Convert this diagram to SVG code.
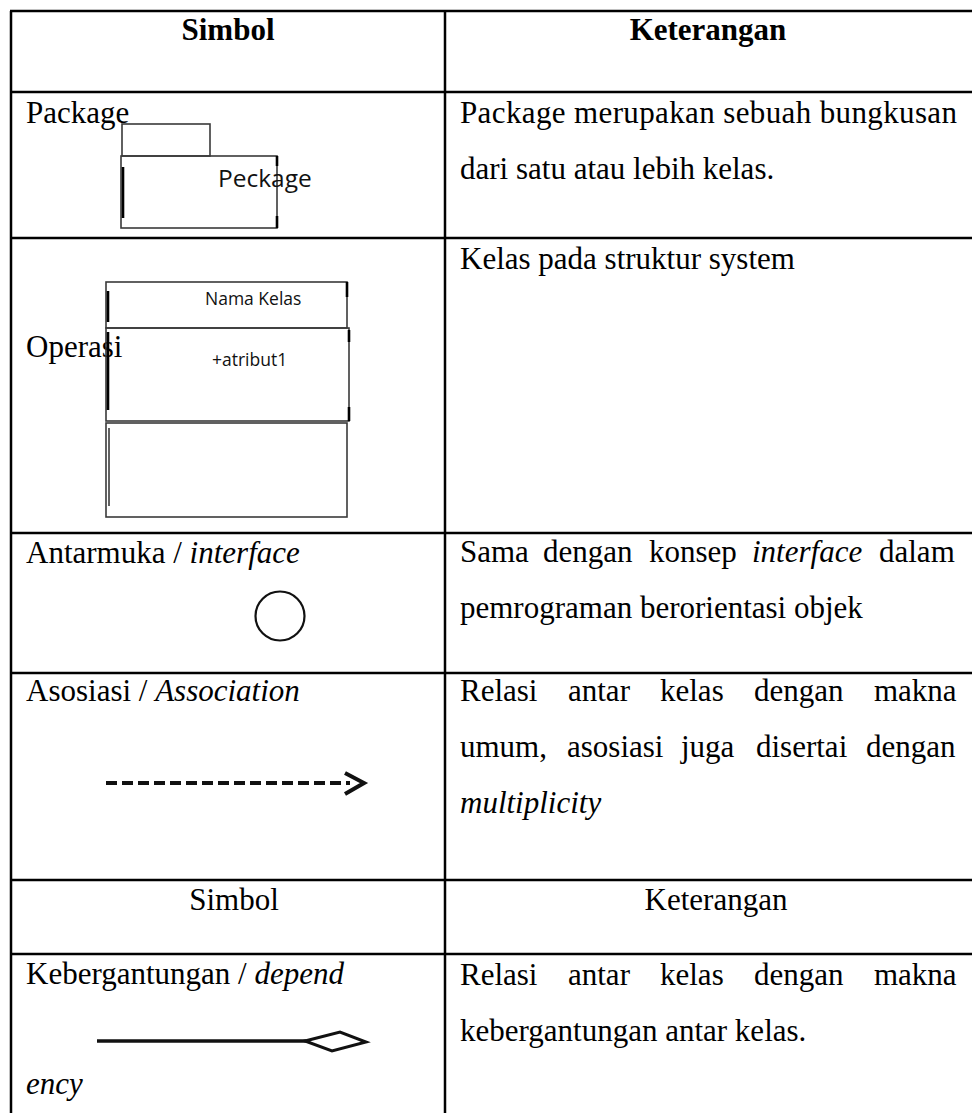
<svg xmlns="http://www.w3.org/2000/svg" width="972" height="1113" viewBox="0 0 972 1113">
  <style>
    .grid { stroke: #000; stroke-width: 2.5; fill: none; }
    .t { font-family: "Liberation Serif", "Times New Roman", serif; font-size: 31px; fill: #000; }
    .th { font-family: "Liberation Serif", "Times New Roman", serif; font-size: 31px; font-weight: bold; fill: #000; }
    .i { font-style: italic; }
    .sans { font-family: "Open Sans", "Liberation Sans", sans-serif; fill: #111; }
    .shape { stroke: #3a3a3a; stroke-width: 1.6; fill: none; }
    .edge { stroke: #000; stroke-width: 2.6; fill: none; }
  </style>
  <rect width="972" height="1113" fill="#fff"/>

  <!-- table grid -->
  <g id="grid" class="grid">
    <line x1="11" y1="11" x2="11" y2="1113"/>
    <line x1="445" y1="11" x2="445" y2="1113"/>
    <line x1="10" y1="11" x2="972" y2="11"/>
    <line x1="10" y1="92" x2="972" y2="92"/>
    <line x1="10" y1="238" x2="972" y2="238"/>
    <line x1="10" y1="533" x2="972" y2="533"/>
    <line x1="10" y1="673" x2="972" y2="673"/>
    <line x1="10" y1="880" x2="972" y2="880"/>
    <line x1="10" y1="954" x2="972" y2="954"/>
  </g>

  <!-- header row -->
  <g id="header">
    <text class="th" x="228" y="40" text-anchor="middle">Simbol</text>
    <text class="th" x="708" y="40" text-anchor="middle">Keterangan</text>
  </g>

  <!-- package -->
  <g id="package">
    <text class="t" x="26" y="123">Package</text>
    <rect class="shape" x="122" y="124" width="88" height="32"/>
    <rect class="shape" x="121" y="156" width="156" height="72"/>
    <line class="edge" x1="123" y1="167" x2="123" y2="218"/>
    <line class="edge" x1="277" y1="156" x2="277" y2="166"/>
    <line class="edge" x1="277" y1="216" x2="277" y2="228"/>
    <text class="sans" x="218" y="187" font-size="24.5">Peckage</text>
    <text class="t" x="460" y="123" textLength="497" lengthAdjust="spacing">Package merupakan sebuah bungkusan</text>
    <text class="t" x="460" y="179">dari satu atau lebih kelas.</text>
  </g>

  <!-- class -->
  <g id="class">
    <text class="t" x="26" y="357">Operasi</text>
    <rect class="shape" x="106" y="282" width="241" height="46"/>
    <rect class="shape" x="106" y="328" width="243" height="93"/>
    <rect class="shape" x="106" y="423" width="241" height="94"/>
    <line class="edge" x1="108" y1="291" x2="108" y2="322"/>
    <line class="edge" x1="108" y1="332" x2="108" y2="410"/>
    <line class="shape" x1="109" y1="428" x2="109" y2="506"/>
    <line class="edge" x1="347" y1="282" x2="347" y2="297"/>
    <line class="edge" x1="349" y1="330" x2="349" y2="342"/>
    <line class="edge" x1="349" y1="407" x2="349" y2="421"/>
    <text class="sans" x="205" y="305" font-size="17.5">Nama Kelas</text>
    <text class="sans" x="212" y="366" font-size="17.5">+atribut1</text>
    <text class="t" x="460" y="269">Kelas pada struktur system</text>
  </g>

  <!-- interface -->
  <g id="interface">
    <text class="t" x="26" y="563">Antarmuka / <tspan class="i">interface</tspan></text>
    <circle cx="280" cy="616" r="24.5" fill="none" stroke="#111" stroke-width="2.2"/>
    <text class="t" y="562"><tspan x="460">Sama</tspan><tspan x="543">dengan</tspan><tspan x="649">konsep</tspan><tspan x="752" class="i">interface</tspan><tspan x="879">dalam</tspan></text>
    <text class="t" x="460" y="618">pemrograman berorientasi objek</text>
  </g>

  <!-- association -->
  <g id="association">
    <text class="t" x="26" y="701">Asosiasi / <tspan class="i">Association</tspan></text>
    <line x1="106" y1="783" x2="350" y2="783" stroke="#111" stroke-width="4" stroke-dasharray="11 5"/>
    <polyline points="345,773 364,783 345,794" fill="none" stroke="#111" stroke-width="4"/>
    <text class="t" y="701"><tspan x="460">Relasi</tspan><tspan x="568">antar</tspan><tspan x="660">kelas</tspan><tspan x="754">dengan</tspan><tspan x="874">makna</tspan></text>
    <text class="t" y="757"><tspan x="460">umum,</tspan><tspan x="567">asosiasi</tspan><tspan x="681">juga</tspan><tspan x="756">disertai</tspan><tspan x="866">dengan</tspan></text>
    <text class="t i" x="460" y="813">multiplicity</text>
  </g>

  <!-- repeated header -->
  <g id="header-2">
    <text class="t" x="234" y="910" text-anchor="middle">Simbol</text>
    <text class="t" x="716" y="910" text-anchor="middle">Keterangan</text>
  </g>

  <!-- dependency -->
  <g id="dependency">
    <text class="t" x="26" y="984">Kebergantungan / <tspan class="i">depend</tspan></text>
    <line x1="97" y1="1041" x2="306" y2="1041" stroke="#111" stroke-width="3.5"/>
    <polygon points="305,1041 340,1032 366,1042 332,1051" fill="#fff" stroke="#111" stroke-width="3"/>
    <text class="t i" x="26" y="1094">ency</text>
    <text class="t" y="985"><tspan x="460">Relasi</tspan><tspan x="568">antar</tspan><tspan x="660">kelas</tspan><tspan x="754">dengan</tspan><tspan x="874">makna</tspan></text>
    <text class="t" x="460" y="1041">kebergantungan antar kelas.</text>
  </g>
</svg>
